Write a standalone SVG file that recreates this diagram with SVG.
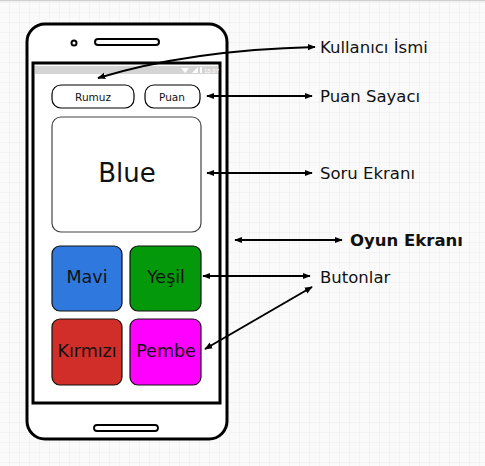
<svg xmlns="http://www.w3.org/2000/svg" width="485" height="466" viewBox="0 0 485 466">
<defs>
<pattern id="grid" width="10" height="10" patternUnits="userSpaceOnUse" x="0" y="3">
<rect width="10" height="10" fill="#fafafa"/>
<path d="M10 0V10M0 10H10" stroke="#ececec" stroke-width="1" fill="none"/>
</pattern>
<marker id="ah" viewBox="0 0 10 10" refX="9" refY="5" markerWidth="8" markerHeight="8" orient="auto-start-reverse" markerUnits="userSpaceOnUse">
<path d="M0 1L10 5L0 9Z" fill="#000"/>
</marker>
</defs>
<style>
.lbl{font-family:"DejaVu Sans","Liberation Sans",sans-serif;font-size:16.5px;fill:#111}
.btn{font-family:"DejaVu Sans","Liberation Sans",sans-serif;fill:#111;text-anchor:middle;dominant-baseline:central}
.con{stroke:#000;stroke-width:2;fill:none;marker-start:url(#ah);marker-end:url(#ah)}
</style>
<rect width="485" height="466" fill="url(#grid)"/>
<line x1="0" y1="0.5" x2="485" y2="0.5" stroke="#cfcfcf" stroke-width="1.5"/>

<g id="phone">
<rect x="27" y="24" width="200" height="415" rx="18" fill="#fff" stroke="#000" stroke-width="3"/>
<circle cx="74" cy="43" r="2.5" fill="none" stroke="#000" stroke-width="2"/>
<rect x="95" y="39" width="64" height="6" rx="3" fill="none" stroke="#000" stroke-width="2"/>
<rect x="94" y="425" width="64" height="6" rx="3" fill="none" stroke="#000" stroke-width="1.8"/>
<rect x="33" y="63" width="187" height="340" fill="#fff" stroke="#000" stroke-width="3"/>
<rect x="35" y="66" width="183" height="8" fill="#d4d4d4"/>
<path d="M181 68L189 68L185 73Z" fill="#fff"/>
<path d="M192 73L198 67L198 73Z" fill="#fff"/>
<rect x="200" y="67" width="2" height="6" fill="#fff"/>
<text x="204" y="72.5" font-family="Liberation Sans,sans-serif" font-size="6" fill="#fff">15:37</text>
</g>

<g id="rumuz">
<rect x="52" y="85" width="82" height="23" rx="9" fill="#fff" stroke="#000" stroke-width="1.2"/>
<text x="93" y="96.5" class="btn" font-size="10.5">Rumuz</text>
</g>
<g id="puan">
<rect x="145" y="85" width="55" height="23" rx="9" fill="#fff" stroke="#000" stroke-width="1.2"/>
<text x="172" y="96.5" class="btn" font-size="10.5">Puan</text>
</g>
<g id="soru">
<rect x="52" y="117" width="149" height="115" rx="9" fill="#fff" stroke="#444" stroke-width="1.2"/>
<text x="127" y="173" class="btn" font-size="26">Blue</text>
</g>
<g id="mavi">
<rect x="52" y="246" width="70" height="65" rx="8" fill="#2f78de" stroke="#111" stroke-width="1.2"/>
<text x="87" y="277" class="btn" font-size="17.5">Mavi</text>
</g>
<g id="yesil">
<rect x="130" y="246" width="71" height="65" rx="8" fill="#04990b" stroke="#111" stroke-width="1.2"/>
<text x="166" y="277" class="btn" font-size="17.5">Yeşil</text>
</g>
<g id="kirmizi">
<rect x="52" y="319" width="70" height="66" rx="8" fill="#d12e2a" stroke="#111" stroke-width="1.2"/>
<text x="87" y="351" class="btn" font-size="17.5">Kırmızı</text>
</g>
<g id="pembe">
<rect x="130" y="319" width="71" height="66" rx="8" fill="#ff00ff" stroke="#111" stroke-width="1.2"/>
<text x="166" y="351" class="btn" font-size="17.5">Pembe</text>
</g>

<g id="connectors">
<path class="con" d="M98 78Q190 50 315 47"/>
<line class="con" x1="207" y1="96" x2="312" y2="96"/>
<line class="con" x1="207" y1="173" x2="312" y2="173"/>
<line class="con" x1="235" y1="240" x2="342" y2="240"/>
<line class="con" x1="203" y1="276" x2="310" y2="276"/>
<line class="con" x1="205" y1="349" x2="312" y2="287"/>
</g>

<g id="labels">
<text class="lbl" x="320" y="53">Kullanıcı İsmi</text>
<text class="lbl" x="320" y="102">Puan Sayacı</text>
<text class="lbl" x="320" y="179">Soru Ekranı</text>
<text class="lbl" x="350" y="246" font-weight="bold" font-size="16">Oyun Ekranı</text>
<text class="lbl" x="320" y="283">Butonlar</text>
</g>
</svg>
